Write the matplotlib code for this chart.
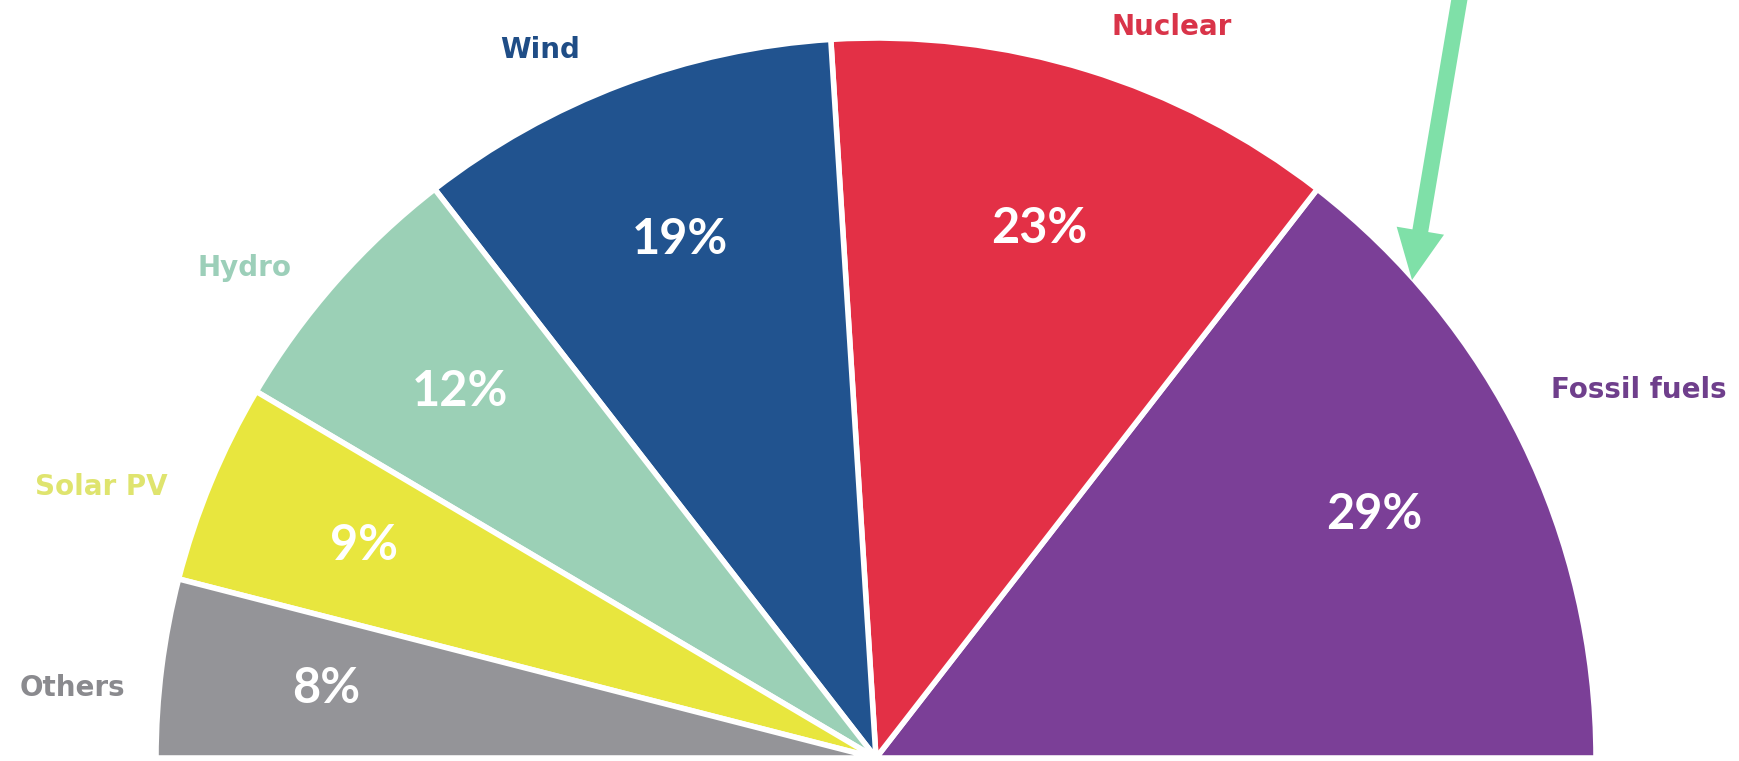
import matplotlib
matplotlib.use("Agg")
import matplotlib.pyplot as plt
import numpy as np

# ---- data ----
categories = ["Fossil fuels", "Nuclear", "Wind", "Hydro", "Solar PV", "Others"]
shares = [29, 23, 19, 12, 9, 8]          # percent of total
slice_colors = ["#7b3f97", "#e33046", "#21538f", "#9bd0b6", "#e8e63e", "#949498"]
label_colors = ["#6f3f8c", "#d93449", "#1f4d86", "#9ccfb9", "#dfe46e", "#8a8a8e"]

# ---- layout (pixel-like data coordinates, y up) ----
W, H = 1740, 761
center = (876, H - 758)
radius = 720
label_pos = {
    "Fossil fuels": (1639, H - 390),
    "Nuclear": (1172, H - 27),
    "Wind": (540, H - 50),
    "Hydro": (245, H - 268),
    "Solar PV": (101, H - 487),
    "Others": (72, H - 688),
}

fig = plt.figure(figsize=(W / 100, H / 100), dpi=100)
ax = fig.add_axes([0, 0, 1, 1])

fractions = np.array(shares) / 200.0  # half circle
wedges, texts, autotexts = ax.pie(
    fractions,
    normalize=False,
    startangle=0,
    counterclock=True,
    colors=slice_colors,
    center=center,
    radius=radius,
    autopct=lambda p: f"{p * 2:.0f}%",
    pctdistance=0.77,
    wedgeprops=dict(edgecolor="white", linewidth=4),
    textprops=dict(color="white", fontsize=35, fontweight="bold", family="Lato"),
)
for t in autotexts:
    t.set_ha("center")
    t.set_va("center")

for cat, col in zip(categories, label_colors):
    x, y = label_pos[cat]
    ax.text(x, y, cat, color=col, fontsize=20, fontweight="bold",
            family="DejaVu Sans", ha="center", va="center")

# green arrow pointing at the fossil fuels slice
tail = (1461, H + 10)
tip = (1412, H - 280)
ax.arrow(tail[0], tail[1], tip[0] - tail[0], tip[1] - tail[1],
         width=16, head_width=48, head_length=50,
         length_includes_head=True, color="#7fe0a8", linewidth=0)

ax.set_xlim(0, W)
ax.set_ylim(0, H)
ax.set_aspect("equal")
ax.axis("off")

fig.savefig("out.png", dpi=100, facecolor="white")
